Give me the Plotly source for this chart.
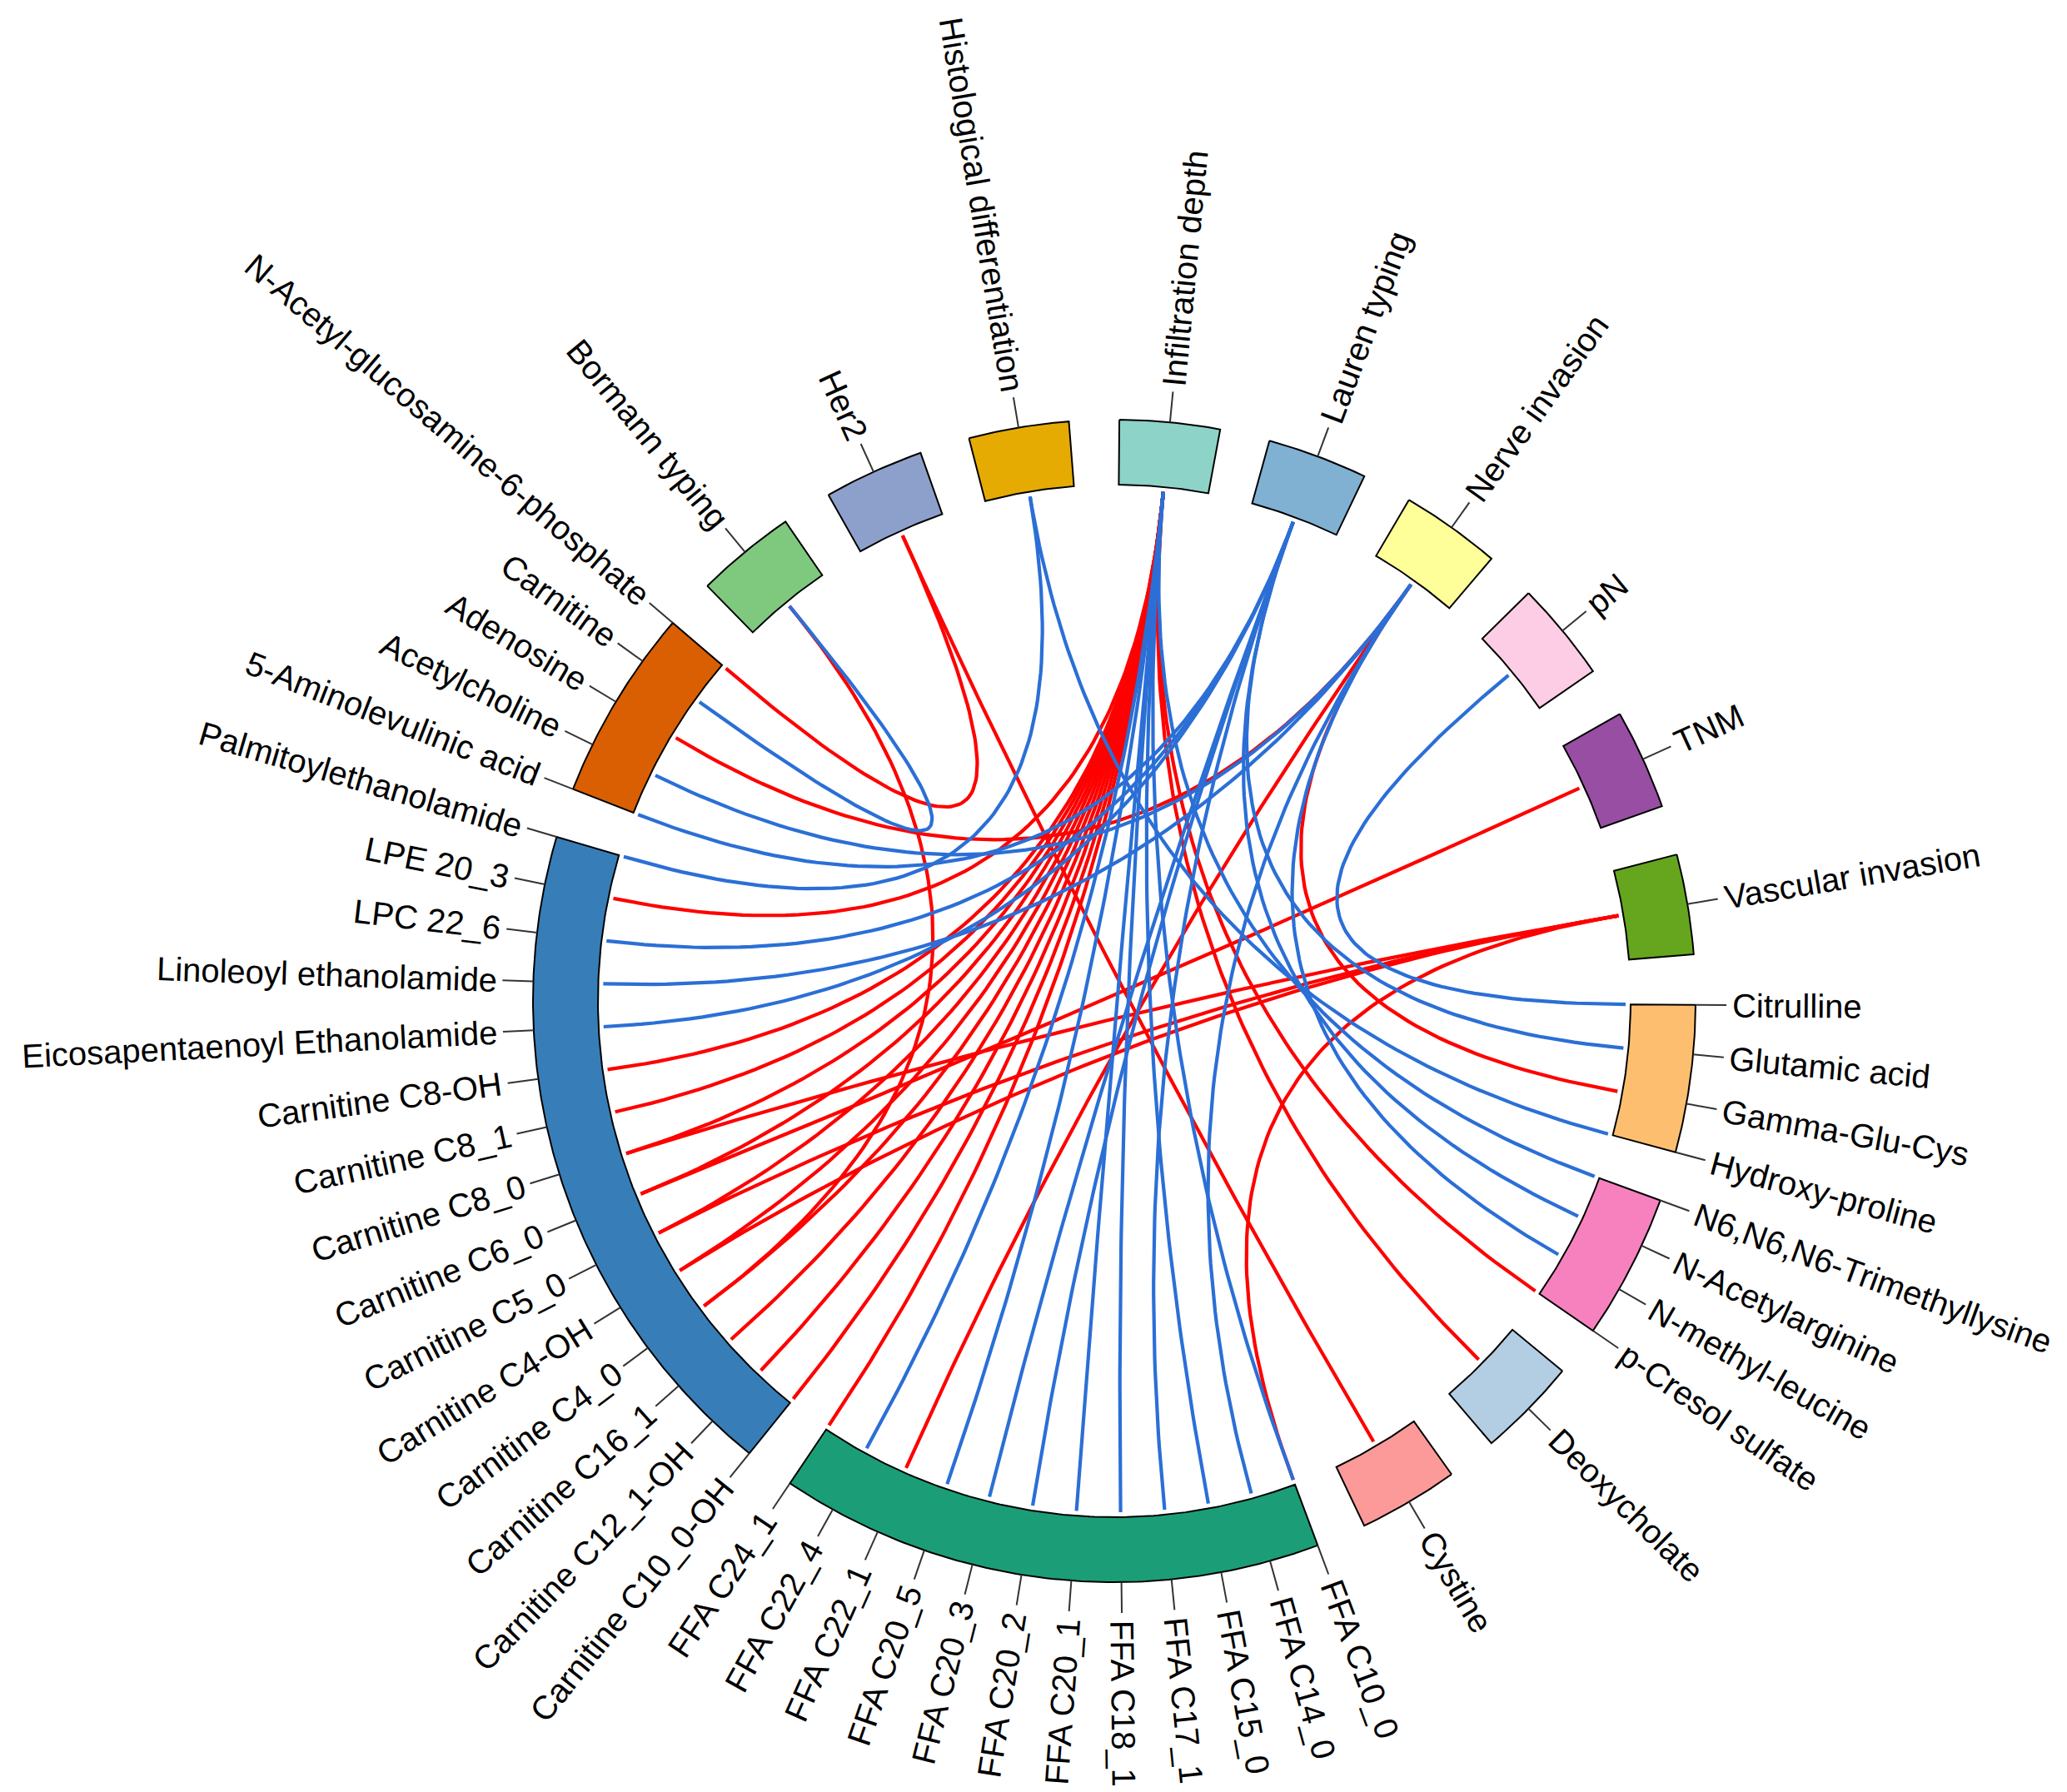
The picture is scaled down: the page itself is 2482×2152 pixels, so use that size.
import math
import plotly.graph_objects as go

# ---------------- data ----------------
# sectors, listed clockwise starting at 12 o'clock
clin_infiltration = ["Infiltration depth"]
clin_lauren = ["Lauren typing"]
clin_nerve = ["Nerve invasion"]
clin_pn = ["pN"]
clin_tnm = ["TNM"]
clin_vascular = ["Vascular invasion"]
met_amino = ["Citrulline", "Glutamic acid", "Gamma-Glu-Cys", "Hydroxy-proline"]
met_modified = ["N6,N6,N6-Trimethyllysine", "N-Acetylarginine", "N-methyl-leucine", "p-Cresol sulfate"]
met_bile = ["Deoxycholate"]
met_cystine = ["Cystine"]
met_ffa = ["FFA C10_0", "FFA C14_0", "FFA C15_0", "FFA C17_1", "FFA C18_1", "FFA C20_1",
           "FFA C20_2", "FFA C20_3", "FFA C20_5", "FFA C22_1", "FFA C22_4", "FFA C24_1"]
met_lipid = ["Carnitine C10_0-OH", "Carnitine C12_1-OH", "Carnitine C16_1", "Carnitine C4_0",
             "Carnitine C4-OH", "Carnitine C5_0", "Carnitine C6_0", "Carnitine C8_0", "Carnitine C8_1",
             "Carnitine C8-OH", "Eicosapentaenoyl Ethanolamide", "Linoleoyl ethanolamide",
             "LPC 22_6", "LPE 20_3", "Palmitoylethanolamide"]
met_other = ["5-Aminolevulinic acid", "Acetylcholine", "Adenosine", "Carnitine",
             "N-Acetyl-glucosamine-6-phosphate"]
clin_bormann = ["Bormann typing"]
clin_her2 = ["Her2"]
clin_histo = ["Histological differentiation"]

# links: metabolite, clinical feature, sign of correlation
link_metabolite = [
    "N-Acetyl-glucosamine-6-phosphate", "Adenosine", "LPE 20_3", "Carnitine C8-OH", "Carnitine C8_1",
    "Carnitine C8_0", "Carnitine C8_0", "Carnitine C6_0", "Carnitine C6_0", "Carnitine C5_0",
    "Carnitine C5_0", "Carnitine C4-OH", "Carnitine C4-OH", "Carnitine C4_0", "Carnitine C4_0",
    "Carnitine C16_1", "Carnitine C12_1-OH", "Carnitine C10_0-OH", "FFA C24_1", "FFA C22_1",
    "FFA C10_0", "Cystine", "Deoxycholate", "p-Cresol sulfate", "Gamma-Glu-Cys",
    "Carnitine", "Acetylcholine", "5-Aminolevulinic acid", "Palmitoylethanolamide", "LPC 22_6",
    "Linoleoyl ethanolamide", "Eicosapentaenoyl Ethanolamide", "Citrulline", "Glutamic acid",
    "Hydroxy-proline", "N6,N6,N6-Trimethyllysine", "N-Acetylarginine", "N-methyl-leucine",
    "FFA C22_4", "FFA C20_5", "FFA C20_3", "FFA C20_2", "FFA C20_1", "FFA C18_1", "FFA C17_1",
    "FFA C15_0", "FFA C14_0", "FFA C10_0",
]
link_clinical = [
    "Her2", "Nerve invasion", "Infiltration depth", "Infiltration depth", "Infiltration depth",
    "Infiltration depth", "Vascular invasion", "TNM", "Infiltration depth", "Vascular invasion",
    "Infiltration depth", "Vascular invasion", "Infiltration depth", "Infiltration depth", "Bormann typing",
    "Infiltration depth", "Infiltration depth", "Infiltration depth", "Infiltration depth", "Nerve invasion",
    "Vascular invasion", "Her2", "Infiltration depth", "Infiltration depth", "Nerve invasion",
    "Bormann typing", "Nerve invasion", "Lauren typing", "Histological differentiation", "Lauren typing",
    "Nerve invasion", "Lauren typing", "pN", "Lauren typing",
    "Histological differentiation", "Infiltration depth", "Lauren typing", "Nerve invasion",
    "Infiltration depth", "Infiltration depth", "Lauren typing", "Lauren typing", "Infiltration depth",
    "Infiltration depth", "Lauren typing", "Infiltration depth", "Nerve invasion", "Infiltration depth",
]
link_sign = ["positive"] * 25 + ["negative"] * 23

# ---------------- layout / style ----------------
groups = [clin_infiltration, clin_lauren, clin_nerve, clin_pn, clin_tnm, clin_vascular,
          met_amino, met_modified, met_bile, met_cystine, met_ffa, met_lipid, met_other,
          clin_bormann, clin_her2, clin_histo]
group_colors = ["#8DD3C7", "#80B1D3", "#FFFF99", "#FCCDE5", "#984EA3", "#66A61E",
                "#FDBF6F", "#F781BF", "#B3CDE3", "#FB9A99", "#1B9E77", "#377EB8", "#D95F02",
                "#7FC97F", "#8DA0CB", "#E6AB02"]
group_span = [10.0, 10.0, 10.0, 10.0, 10.0, 10.0,
              14.7, 14.5, 10.0, 10.0, 54.4, 67.5, 19.2,
              10.0, 10.0, 10.0]
START_DEG = 0.5
W, H = 2482, 2152
CX, CY = 1330.0, 1194.0
R_OUT, R_IN, R_LINK = 698.0, 620.0, 614.0
TICK_LEN = 37.0
LABEL_GAP = 7.0
FS = 40
LINK_COLOR = {"positive": "#FF0000", "negative": "#2B6FD6"}

HELV = dict(zip("abcdefghijklmnopqrstuvwxyz",
                [556, 556, 500, 556, 556, 278, 556, 556, 222, 222, 500, 222, 833, 556, 556, 556, 556,
                 333, 500, 278, 556, 500, 722, 500, 500, 500]))
HELV.update(dict(zip("ABCDEFGHIJKLMNOPQRSTUVWXYZ",
                     [667, 667, 722, 722, 667, 611, 778, 722, 278, 500, 667, 556, 833, 722, 778, 667,
                      778, 722, 667, 611, 722, 667, 944, 667, 667, 611])))
HELV.update({d: 556 for d in "0123456789"})
HELV.update({" ": 278, "-": 333, "_": 556, ",": 278, ".": 278})


def text_width(s):
    return sum(HELV.get(c, 556) for c in s) / 1000.0 * FS


def pt(theta_deg, r):
    t = math.radians(theta_deg)
    return CX + r * math.sin(t), CY - r * math.cos(t)


# angular positions
gap = (360.0 - sum(group_span)) / len(groups)
node_angle = {}
bounds = []
a = START_DEG
for g, span in zip(groups, group_span):
    bounds.append((a, a + span))
    if len(g) == 1:
        node_angle[g[0]] = a + span / 2
    else:
        for j, name in enumerate(g):
            node_angle[name] = a + j * span / (len(g) - 1)
    a += span + gap

fig = go.Figure()

# links (quadratic Bezier, control point at centre)
for sign in ["positive", "negative"]:
    xs, ys = [], []
    for m, c, s in zip(link_metabolite, link_clinical, link_sign):
        if s != sign:
            continue
        x0, y0 = pt(node_angle[m], R_LINK)
        x2, y2 = pt(node_angle[c], R_LINK)
        for k in range(81):
            t = k / 80.0
            xs.append((1 - t) ** 2 * x0 + 2 * t * (1 - t) * CX + t * t * x2)
            ys.append((1 - t) ** 2 * y0 + 2 * t * (1 - t) * CY + t * t * y2)
        xs.append(None)
        ys.append(None)
    fig.add_trace(go.Scatter(x=xs, y=ys, mode="lines", hoverinfo="skip",
                             line=dict(color=LINK_COLOR[sign], width=4.2), showlegend=False))

# sectors
for (a0, a1), col, g in zip(bounds, group_colors, groups):
    n = max(4, int((a1 - a0) * 2))
    outer = [pt(a0 + (a1 - a0) * k / n, R_OUT) for k in range(n + 1)]
    inner = [pt(a1 - (a1 - a0) * k / n, R_IN) for k in range(n + 1)]
    poly = outer + inner + [outer[0]]
    fig.add_trace(go.Scatter(x=[p[0] for p in poly], y=[p[1] for p in poly], mode="lines",
                             fill="toself", fillcolor=col, line=dict(color="black", width=2),
                             hoverinfo="text", text=", ".join(g), showlegend=False))

# ticks
tx, ty = [], []
for name, th in node_angle.items():
    x0, y0 = pt(th, R_OUT)
    x1, y1 = pt(th, R_OUT + TICK_LEN)
    tx += [x0, x1, None]
    ty += [y0, y1, None]
fig.add_trace(go.Scatter(x=tx, y=ty, mode="lines", line=dict(color="#333333", width=2),
                         hoverinfo="skip", showlegend=False))

# labels
annotations = []
for name, th in node_angle.items():
    th_n = th % 360
    w = text_width(name)
    xc, yc = pt(th_n, R_OUT + TICK_LEN + LABEL_GAP + w / 2)
    ang = th_n - 90 if th_n < 180 else th_n - 270
    annotations.append(dict(x=xc, y=yc, xref="x", yref="y", text=name, showarrow=False,
                            textangle=ang, xanchor="center", yanchor="middle",
                            font=dict(family="Arial, Liberation Sans, sans-serif", size=FS, color="black")))

fig.update_layout(
    width=W, height=H, margin=dict(l=0, r=0, t=0, b=0),
    paper_bgcolor="white", plot_bgcolor="white",
    xaxis=dict(range=[0, W], visible=False, fixedrange=True),
    yaxis=dict(range=[H, 0], visible=False, fixedrange=True, scaleanchor="x", scaleratio=1),
    annotations=annotations, showlegend=False,
)

fig.write_html("out.html")
